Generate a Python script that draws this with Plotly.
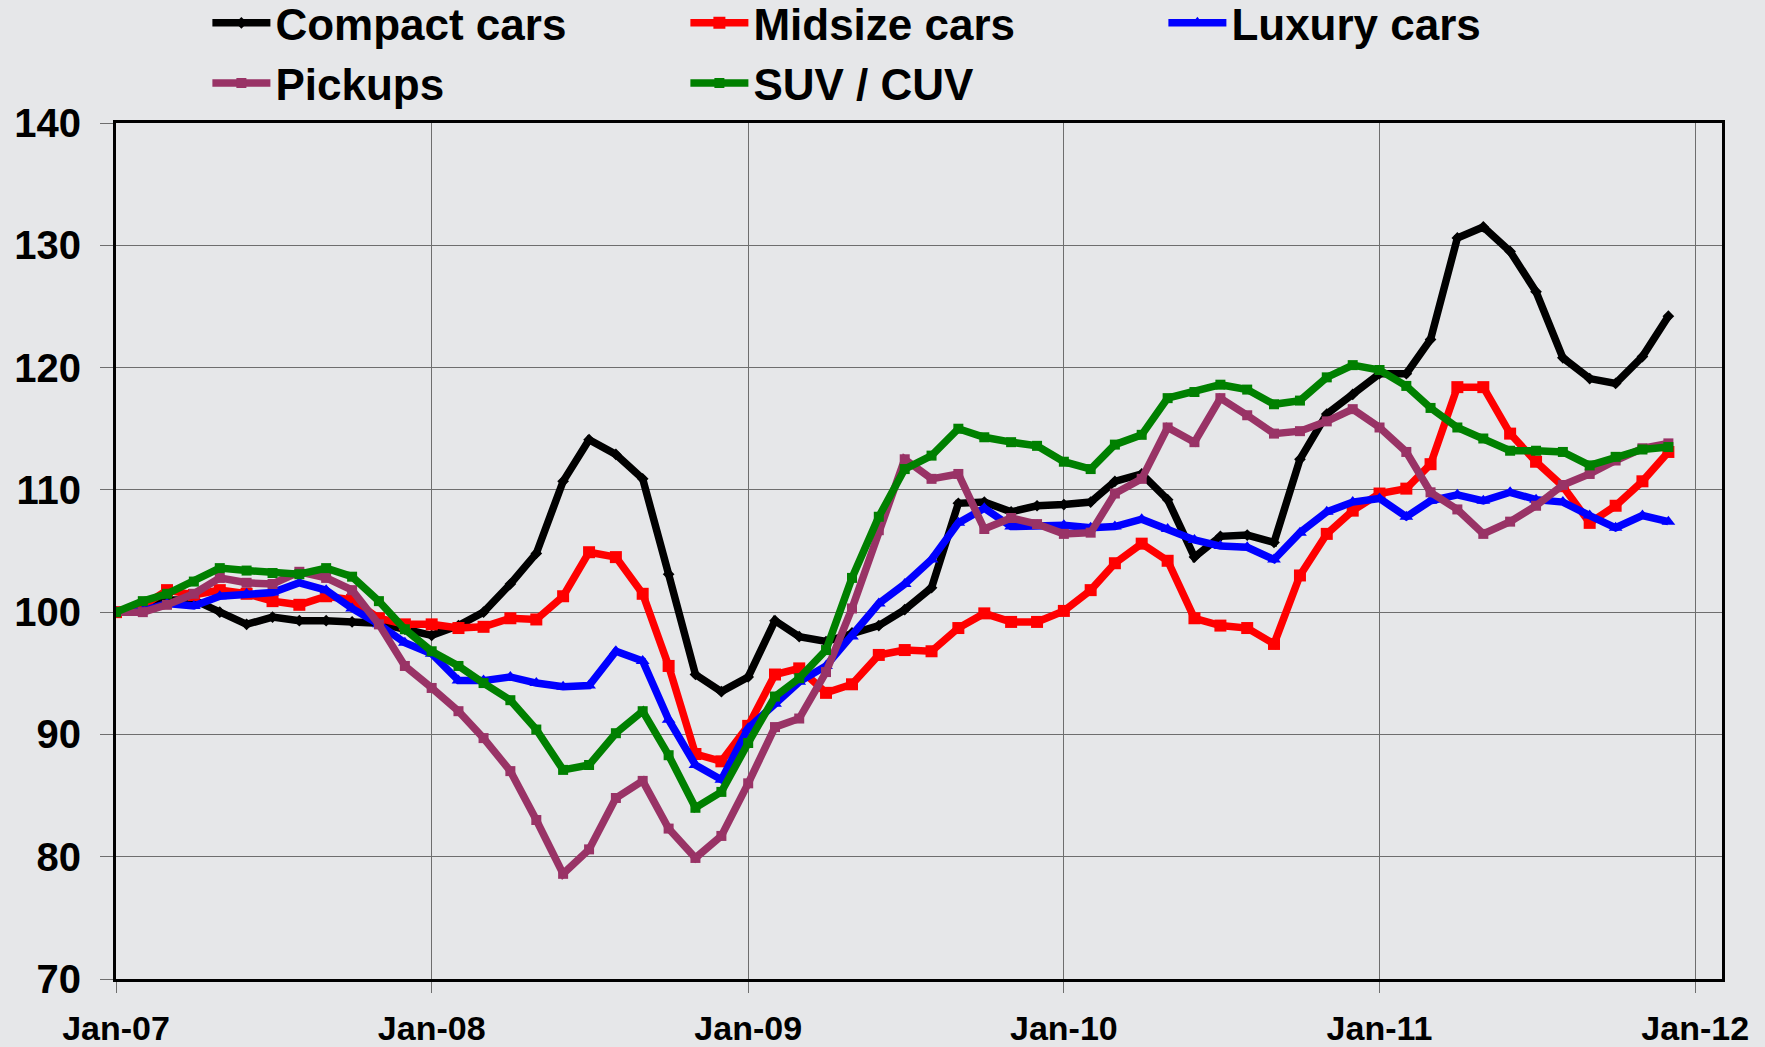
import pandas as pd
import plotly.graph_objects as go

months = pd.date_range("2007-01-01", "2011-12-01", freq="MS")

compact = [100, 100.5, 101.0, 101.0, 100.0, 99.0, 99.6, 99.3, 99.3, 99.2, 99.1, 98.6,
           98.1, 98.9, 100.0, 102.3, 104.8, 110.7, 114.1, 112.9, 110.9, 103.1, 94.9, 93.5,
           94.7, 99.3, 98.0, 97.6, 98.3, 98.9, 100.2, 102.0, 108.9, 109.0, 108.2, 108.7,
           108.8, 109.0, 110.7, 111.3, 109.2, 104.5, 106.2, 106.3, 105.7, 112.5, 116.2, 117.8,
           119.5, 119.5, 122.3, 130.6, 131.5, 129.5, 126.2, 120.8, 119.1, 118.7, 120.9, 124.2]

midsize = [100, 100.5, 101.8, 101.4, 101.8, 101.5, 100.9, 100.6, 101.3, 101.0, 99.5, 99.0,
           99.0, 98.7, 98.8, 99.5, 99.4, 101.3, 104.9, 104.5, 101.5, 95.6, 88.4, 87.8,
           90.7, 94.9, 95.4, 93.4, 94.1, 96.5, 96.9, 96.8, 98.7, 99.9, 99.2, 99.2,
           100.1, 101.8, 104.0, 105.6, 104.2, 99.5, 98.9, 98.7, 97.4, 103.0, 106.4, 108.3,
           109.7, 110.1, 112.1, 118.4, 118.4, 114.6, 112.3, 110.3, 107.3, 108.7, 110.7, 113.1]

luxury = [100, 100.1, 100.7, 100.5, 101.3, 101.5, 101.6, 102.4, 101.8, 100.3, 99.0, 97.5,
          96.6, 94.4, 94.4, 94.7, 94.2, 93.9, 94.0, 96.8, 96.0, 91.2, 87.5, 86.3,
          90.5, 92.5, 94.3, 95.6, 98.0, 100.7, 102.3, 104.3, 107.3, 108.5, 107.0, 107.1,
          107.1, 106.9, 107.0, 107.6, 106.8, 105.9, 105.4, 105.3, 104.3, 106.5, 108.2, 109.0,
          109.3, 107.8, 109.1, 109.6, 109.1, 109.8, 109.2, 109.0, 107.9, 106.9, 107.9, 107.4]

pickups = [100, 100.0, 100.6, 101.5, 102.8, 102.4, 102.3, 103.3, 102.8, 101.8, 99.0, 95.6,
           93.8, 91.9, 89.7, 87.0, 83.0, 78.6, 80.6, 84.8, 86.2, 82.3, 79.9, 81.7,
           86.0, 90.6, 91.3, 95.1, 100.3, 106.7, 112.5, 110.9, 111.3, 106.8, 107.7, 107.2,
           106.4, 106.5, 109.7, 110.9, 115.1, 113.9, 117.5, 116.1, 114.6, 114.8, 115.6, 116.6,
           115.1, 113.1, 109.8, 108.4, 106.4, 107.4, 108.7, 110.4, 111.3, 112.4, 113.4, 113.8]

suv = [100, 100.9, 101.5, 102.5, 103.6, 103.4, 103.2, 103.1, 103.6, 102.9, 100.9, 98.6,
       96.8, 95.6, 94.2, 92.8, 90.4, 87.1, 87.5, 90.1, 91.9, 88.3, 84.0, 85.3,
       89.3, 93.1, 94.6, 96.9, 102.8, 107.8, 111.7, 112.8, 115.0, 114.3, 113.9, 113.6,
       112.3, 111.7, 113.7, 114.5, 117.5, 118.0, 118.6, 118.2, 117.0, 117.3, 119.2, 120.2,
       119.8, 118.5, 116.7, 115.1, 114.2, 113.2, 113.2, 113.1, 112.0, 112.7, 113.3, 113.5]

series_names = ["Compact cars", "Midsize cars", "Luxury cars", "Pickups", "SUV / CUV"]
series_values = [compact, midsize, luxury, pickups, suv]
colors = ["#000000", "#FF0000", "#0000FF", "#993366", "#008000"]
symbols = ["diamond", "square", "triangle-up", "square", "square"]
msizes = [9, 12, 12, 10, 10]

FONT = "Liberation Sans, Arial, sans-serif"
BG = "#E6E7E9"

fig = go.Figure()
for name, vals, col, sym, ms in zip(series_names, series_values, colors, symbols, msizes):
    fig.add_trace(go.Scatter(
        x=months, y=vals, name=name, mode="lines+markers",
        line=dict(color=col, width=7.5),
        marker=dict(symbol=sym, size=ms, color=col),
    ))

fig.update_layout(
    width=1765, height=1047,
    paper_bgcolor=BG, plot_bgcolor=BG,
    margin=dict(l=116, r=43, t=123, b=68, autoexpand=False),
    font=dict(family=FONT, color="black"),
    legend=dict(
        orientation="h", xref="container", yref="paper",
        x=0.1175, y=1.158, xanchor="left", yanchor="top",
        entrywidth=405, entrywidthmode="pixels", itemwidth=58,
        font=dict(size=44, family=FONT, weight="bold", color="black"),
        bgcolor="rgba(0,0,0,0)", traceorder="normal",
    ),
    showlegend=True,
)

fig.update_xaxes(
    type="date", range=["2007-01-01", "2012-02-01"],
    tick0="2007-01-01", dtick="M12", tickformat="%b-%y",
    showgrid=True, gridcolor="#6E6E6E", gridwidth=1,
    showline=True, linecolor="black", linewidth=3, mirror=True,
    ticks="outside", ticklen=11, tickcolor="#6E6E6E", tickwidth=1,
    tickfont=dict(size=34, family=FONT, weight="bold", color="black"),
    ticklabelstandoff=6, zeroline=False,
)
fig.update_yaxes(
    range=[70, 140], dtick=10, tick0=70,
    showgrid=True, gridcolor="#6E6E6E", gridwidth=1,
    showline=True, linecolor="black", linewidth=3, mirror=True,
    ticks="outside", ticklen=13, tickcolor="#6E6E6E", tickwidth=1,
    tickfont=dict(size=40, family=FONT, weight="bold", color="black"),
    ticklabelstandoff=11, zeroline=False,
)

fig.write_html(
    "out.html",
    config={"displayModeBar": False},
    post_script="document.body.style.margin='0';document.body.style.overflow='hidden';",
)
